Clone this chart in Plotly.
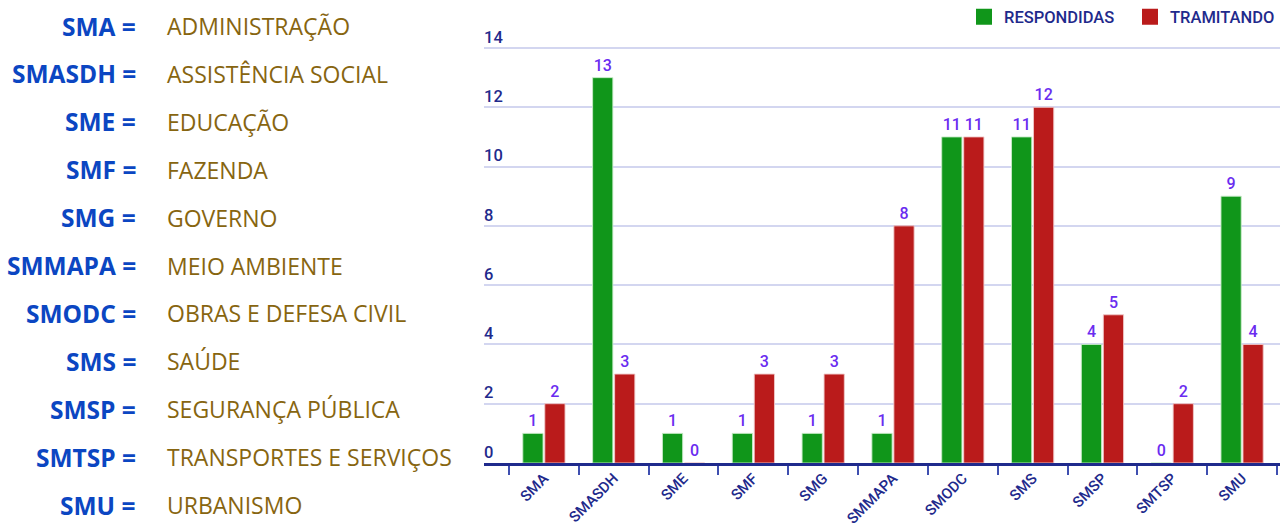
import plotly.graph_objects as go

# Secretarias (eixo x) e contagem de demandas por situação
categorias = ["SMA", "SMASDH", "SME", "SMF", "SMG", "SMMAPA",
              "SMODC", "SMS", "SMSP", "SMTSP", "SMU"]
respondidas = [1, 13, 1, 1, 1, 1, 11, 11, 4, 0, 9]
tramitando = [2, 3, 0, 3, 3, 8, 11, 12, 5, 2, 4]

# Legenda de siglas à esquerda
siglas = ["SMA", "SMASDH", "SME", "SMF", "SMG", "SMMAPA",
          "SMODC", "SMS", "SMSP", "SMTSP", "SMU"]
descricoes = ["ADMINISTRAÇÃO", "ASSISTÊNCIA SOCIAL", "EDUCAÇÃO", "FAZENDA",
              "GOVERNO", "MEIO AMBIENTE", "OBRAS E DEFESA CIVIL", "SAÚDE",
              "SEGURANÇA PÚBLICA", "TRANSPORTES E SERVIÇOS", "URBANISMO"]

W, H = 1282, 527
PX_UNIT = 29.64                      # pixels por unidade no eixo y
ML, MR, MT, MB = 484, 2, 45, 64
PW, PH = W - ML - MR, H - MT - MB
Y_MAX = 14 + 3 / PX_UNIT             # grade do 14 três pixels abaixo do topo

VERDE = "#10961a"
VERMELHO = "#ba1b1b"
NAVY = "#1f2a8c"
ROXO = "#6a2cf0"


def px_x(x):
    return (x - ML) / PW


def px_y(y):
    return 1 - (y - MT) / PH


fig = go.Figure()

fig.add_bar(x=categorias, y=respondidas, name="RESPONDIDAS",
            marker=dict(color=VERDE, line=dict(color="rgba(200,235,200,0.9)", width=1)),
            text=respondidas, textposition="outside", cliponaxis=False,
            textfont=dict(family="Roboto", size=16, color=ROXO, weight=500),
            showlegend=False)
fig.add_bar(x=categorias, y=tramitando, name="TRAMITANDO",
            marker=dict(color=VERMELHO, line=dict(color="rgba(240,200,200,0.9)", width=1)),
            text=tramitando, textposition="outside", cliponaxis=False,
            textfont=dict(family="Roboto", size=16, color=ROXO, weight=500),
            showlegend=False)

# Entradas de legenda com quadrados maiores
for nome, cor in (("RESPONDIDAS", VERDE), ("TRAMITANDO", VERMELHO)):
    fig.add_scatter(x=[None], y=[None], mode="markers", name=nome,
                    marker=dict(symbol="square", size=16, color=cor))

anots = []
for i, (s, d) in enumerate(zip(siglas, descricoes)):
    yc = 26 + i * 47.9
    anots.append(dict(xref="paper", yref="paper", x=px_x(138), y=px_y(yc),
                      xanchor="right", yanchor="middle", showarrow=False,
                      text="<b>%s =</b>" % s,
                      font=dict(family="Open Sans", size=24.5, color="#0b46c2")))
    anots.append(dict(xref="paper", yref="paper", x=px_x(165), y=px_y(yc),
                      xanchor="left", yanchor="middle", showarrow=False,
                      text=d,
                      font=dict(family="Open Sans", size=23, color="#876510")))

fig.update_layout(
    width=W, height=H,
    margin=dict(l=ML, r=MR, t=MT, b=MB, autoexpand=False),
    paper_bgcolor="white", plot_bgcolor="white",
    barmode="group", bargap=0.37, bargroupgap=0.08,
    font=dict(family="Roboto", color=NAVY),
    legend=dict(orientation="h", xanchor="left", x=px_x(964),
                yanchor="middle", y=px_y(17), entrywidth=121,
                font=dict(family="Roboto", size=16.5, color=NAVY, weight=500)),
    annotations=anots,
)

fig.update_xaxes(
    range=[-0.5 - 25 / 69.8, 10.5 + 3 / 69.8], automargin=False,
    showgrid=False, showline=True, linecolor="#1f2a8c", linewidth=2.5,
    ticks="outside", tickson="boundaries", ticklen=9, tickwidth=1.5,
    tickcolor="#3f4fb0", tickangle=-45, ticklabelstandoff=-2,
    tickfont=dict(family="Roboto", size=15, color=NAVY, weight=500),
)
fig.update_yaxes(
    range=[0, Y_MAX], dtick=2, tick0=0, automargin=False,
    showgrid=True, gridcolor="#d3d6f0", gridwidth=1.5,
    zeroline=False, showline=False,
    ticklabelposition="inside", ticklabelstandoff=-3, ticklabelshift=-11,
    ticklabeloverflow="allow",
    tickfont=dict(family="Roboto", size=16.5, color=NAVY, weight=500),
)

fig.write_html("out.html")
